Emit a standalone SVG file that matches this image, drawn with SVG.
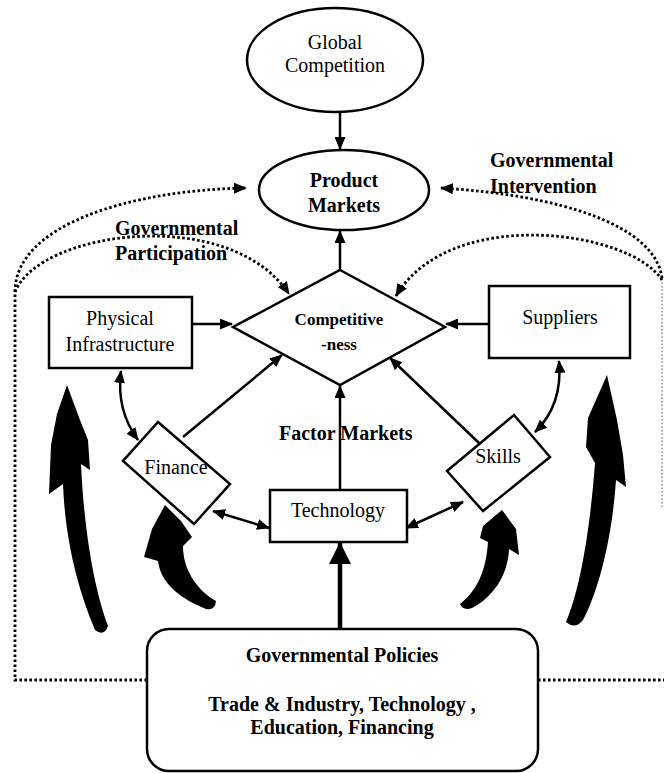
<svg xmlns="http://www.w3.org/2000/svg" width="664" height="773" viewBox="0 0 664 773">
<defs>
<marker id="ah" viewBox="0 0 13 11" refX="12" refY="5.5" markerWidth="13" markerHeight="11" markerUnits="userSpaceOnUse" orient="auto-start-reverse"><path d="M0,0 L13,5.5 L0,11 Z" fill="#000"/></marker>
<marker id="ahd" viewBox="0 0 13 11" refX="12" refY="5.5" markerWidth="13" markerHeight="11" markerUnits="userSpaceOnUse" orient="auto"><path d="M0,0 L13,5.5 L0,11 Z" fill="#000"/></marker>
<marker id="ahb" viewBox="0 0 22 22" refX="21" refY="11" markerWidth="22" markerHeight="22" markerUnits="userSpaceOnUse" orient="auto"><path d="M0,0 L22,11 L0,22 Z" fill="#000"/></marker>
</defs>
<style>
.shape{fill:#fff;stroke:#000;stroke-width:2.5}
.t{font-family:"Liberation Serif","Times New Roman",serif;font-size:20px;fill:#000}
.b{font-weight:bold}
.c{text-anchor:middle}
.ln{fill:none;stroke:#000;stroke-width:2.5}
.dot{fill:none;stroke:#000;stroke-width:2.8;stroke-dasharray:2.6 2.4}
.gdot{fill:none;stroke:#8a8a8a;stroke-width:1.4;stroke-dasharray:1.6 2}
.big{fill:#000;stroke:none}
</style>
<rect width="664" height="773" fill="#fff"/>

<g id="connectors">
  <!-- dotted governmental lines -->
  <path class="dot" d="M147,680 L15,680 L15,292 C15,225 130,190 246,188" marker-end="url(#ahd)"/>
  <path class="dot" d="M15,292 C40,230 230,205 289,294" marker-end="url(#ahd)"/>
  <path class="gdot" d="M662,507 L662,278"/>
  <path class="dot" d="M662,278 C655,225 560,195 441,188" marker-end="url(#ahd)"/>
  <path class="dot" d="M662,280 C630,230 450,205 396,296" marker-end="url(#ahd)"/>
  <path class="dot" d="M538,680 L664,680"/>
  <!-- solid arrows -->
  <path class="ln" d="M340,112 L340,149" marker-end="url(#ah)"/>
  <path class="ln" d="M340,270 L340,231" marker-end="url(#ah)"/>
  <path class="ln" d="M192,324 L232,324" marker-end="url(#ah)"/>
  <path class="ln" d="M489,324 L446,324" marker-end="url(#ah)"/>
  <path class="ln" d="M183,437 L282,355" marker-end="url(#ah)"/>
  <path class="ln" d="M479,443 L390,358" marker-end="url(#ah)"/>
  <path class="ln" d="M340,490 L340,386" marker-end="url(#ah)"/>
  <path class="ln" d="M121,371 Q116,410 138,440" marker-start="url(#ah)" marker-end="url(#ah)"/>
  <path class="ln" d="M559,361 Q563,405 535,432" marker-start="url(#ah)" marker-end="url(#ah)"/>
  <path class="ln" d="M213,511 L269,528" marker-start="url(#ah)" marker-end="url(#ah)"/>
  <path class="ln" d="M406,528 L463,502" marker-start="url(#ah)" marker-end="url(#ah)"/>
  <path fill="none" stroke="#000" stroke-width="4.5" d="M340,629 L340,543" marker-end="url(#ahb)"/>
  <!-- big curved arrows -->
  <path class="big" d="M67,385 L80,420 L88,440 L90,470 L81,464 C84,530 94,588 108,626 Q104,637 95,630 C78,590 65,540 63,484 L49,494 L51,445 L57,414 Z"/>
  <path class="big" d="M607,375 L617,420 L623,455 L626,487 L616,480 C612,540 598,592 583,620 Q575,630 566,622 C580,590 590,530 595,463 L586,447 L588,418 Z"/>
  <path class="big" d="M165,505 L181,521 L192,537 L183,546 C183,570 197,590 216,601 Q215,611 206,609 C182,599 161,585 158,561 L144,557 L152,529 Z"/>
  <path class="big" d="M502,510 L516,529 L519,555 L509,549 C508,576 492,598 472,608 Q463,611 460,604 C478,590 486,570 488,542 L480,538 L483,526 Z"/>
</g>

<g id="global-competition">
  <ellipse class="shape" cx="335" cy="60" rx="88" ry="52"/>
  <text class="t c" x="335" y="49">Global</text>
  <text class="t c" x="335" y="72">Competition</text>
</g>

<g id="product-markets">
  <ellipse class="shape" cx="344" cy="190" rx="85" ry="40"/>
  <text class="t b c" x="344" y="187">Product</text>
  <text class="t b c" x="344" y="212">Markets</text>
</g>

<g id="label-intervention">
  <text class="t b" x="490" y="167">Governmental</text>
  <text class="t b" x="490" y="193">Intervention</text>
</g>

<g id="label-participation">
  <text class="t b" x="115" y="235">Governmental</text>
  <text class="t b" x="115" y="260">Participation</text>
</g>

<g id="competitiveness">
  <polygon class="shape" points="340,270 445,327 340,385 233,327"/>
  <text class="t b c" x="339" y="325" style="font-size:17px">Competitive</text>
  <text class="t b c" x="339" y="350" style="font-size:17px">-ness</text>
</g>

<g id="physical-infrastructure">
  <rect class="shape" x="49" y="297" width="143" height="71"/>
  <text class="t c" x="120" y="325">Physical</text>
  <text class="t c" x="120" y="351">Infrastructure</text>
</g>

<g id="suppliers">
  <rect class="shape" x="489" y="286" width="141" height="72"/>
  <text class="t c" x="560" y="324">Suppliers</text>
</g>

<g id="finance">
  <polygon class="shape" points="158,422 230,484 194,524 123,461"/>
  <text class="t c" x="176" y="474">Finance</text>
</g>

<g id="skills">
  <polygon class="shape" points="514,415 550,457 483,511 447,471"/>
  <text class="t c" x="498" y="463">Skills</text>
</g>

<g id="technology">
  <rect class="shape" x="270" y="490" width="137" height="52"/>
  <text class="t c" x="338" y="517">Technology</text>
</g>

<g id="label-factor-markets">
  <text class="t b" x="279" y="440">Factor Markets</text>
</g>

<g id="governmental-policies">
  <rect class="shape" x="147" y="629" width="391" height="142" rx="22" ry="22"/>
  <text class="t b c" x="342" y="662">Governmental Policies</text>
  <text class="t b c" x="342" y="711">Trade &amp; Industry, Technology ,</text>
  <text class="t b c" x="342" y="734">Education, Financing</text>
</g>
</svg>
